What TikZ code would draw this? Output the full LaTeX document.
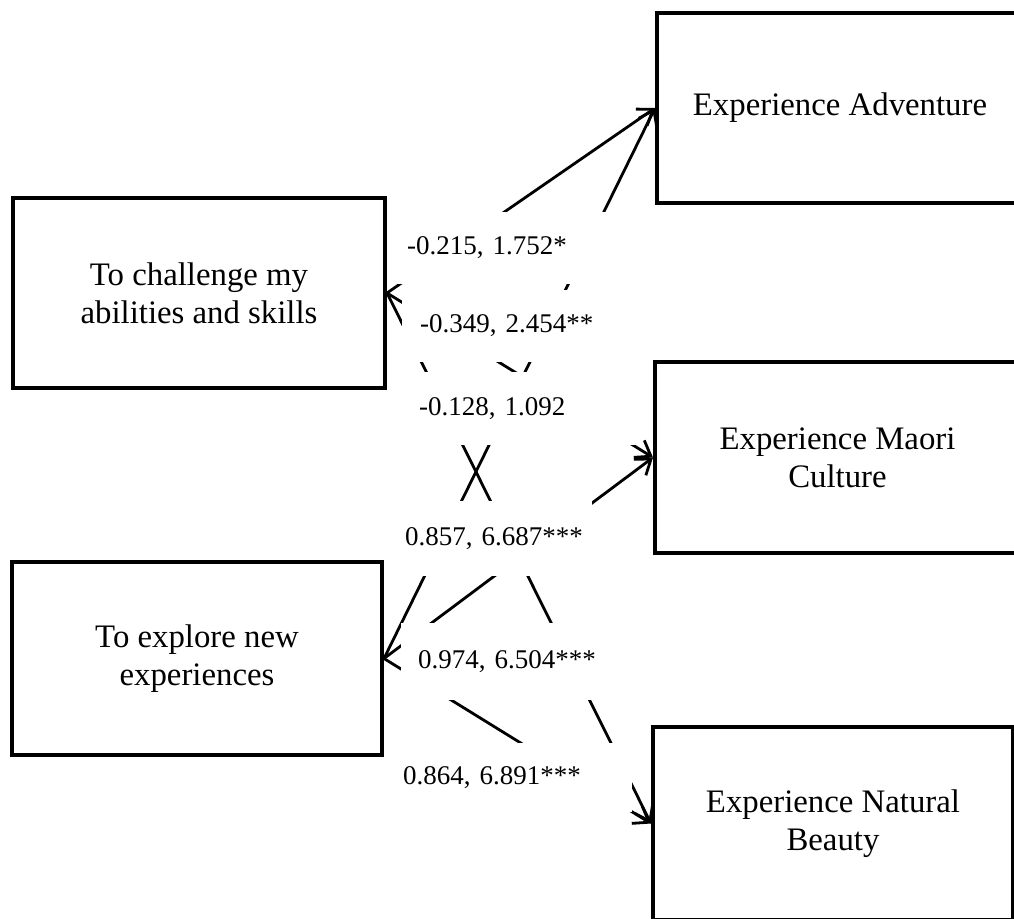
\documentclass[tikz,border=0pt]{standalone}
\usepackage{fontspec}
\setmainfont{Liberation Serif}
\usetikzlibrary{arrows.meta}
\begin{document}
\begin{tikzpicture}[x=1pt,y=-1pt,
  box/.style={draw, line width=4pt, align=center, inner sep=0pt,
    font=\fontsize{32.8}{38}\selectfont},
  conn/.style={line width=2.8pt, -{Straight Barb[length=14pt,width=20pt]}},
  lbl/.style={fill=white, anchor=west, align=left, inner ysep=0pt,
    font=\fontsize{27}{30}\selectfont}]
\useasboundingbox (0,0) rectangle (1014,918);
\clip (0,0) rectangle (1014,918);
% boxes
\node[box, minimum width=372pt, minimum height=190pt] (chal) at (199,293) {To challenge my\\abilities and skills};
\node[box, minimum width=370pt, minimum height=193pt] (expl) at (197,658.5) {To explore new\\experiences};
\node[box, minimum width=366pt, minimum height=190pt] (adv) at (840,108) {Experience Adventure};
\node[box, minimum width=365pt, minimum height=191pt] (mao) at (837.5,457.5) {Experience Maori\\Culture};
\node[box, minimum width=360pt, minimum height=193pt] (nb) at (833,823.5) {Experience Natural\\Beauty};
% connectors
\draw[conn] (chal.east) -- (adv.west);
\draw[conn] (chal.east) -- (mao.west);
\draw[conn] (chal.east) -- (nb.west);
\draw[conn] (expl.east) -- (adv.west);
\draw[conn] (expl.east) -- (mao.west);
\draw[conn] (expl.east) -- (nb.west);
% labels (white backgrounds interrupt the connectors)
\node[lbl, inner xsep=11pt, text width=192pt, minimum height=72pt] (l1) at (396,248) {-0.215, 1.752*};
\node[lbl, inner xsep=18pt, text width=180pt, minimum height=72pt] (l2) at (402,326) {-0.349, 2.454**};
\node[lbl, inner xsep=17pt, text width=200pt, minimum height=73pt] (l3) at (402,408.5) {-0.128, 1.092};
\node[lbl, inner xsep=3pt, text width=184pt, minimum height=75pt] (l4) at (402,538.5) {0.857, 6.687***};
\node[lbl, inner xsep=17pt, text width=182pt, minimum height=77pt] (l5) at (401,661.5) {0.974, 6.504***};
\node[lbl, inner xsep=7pt, text width=222pt, minimum height=69pt] (l6) at (396,777.5) {0.864, 6.891***};
\end{tikzpicture}
\end{document}
